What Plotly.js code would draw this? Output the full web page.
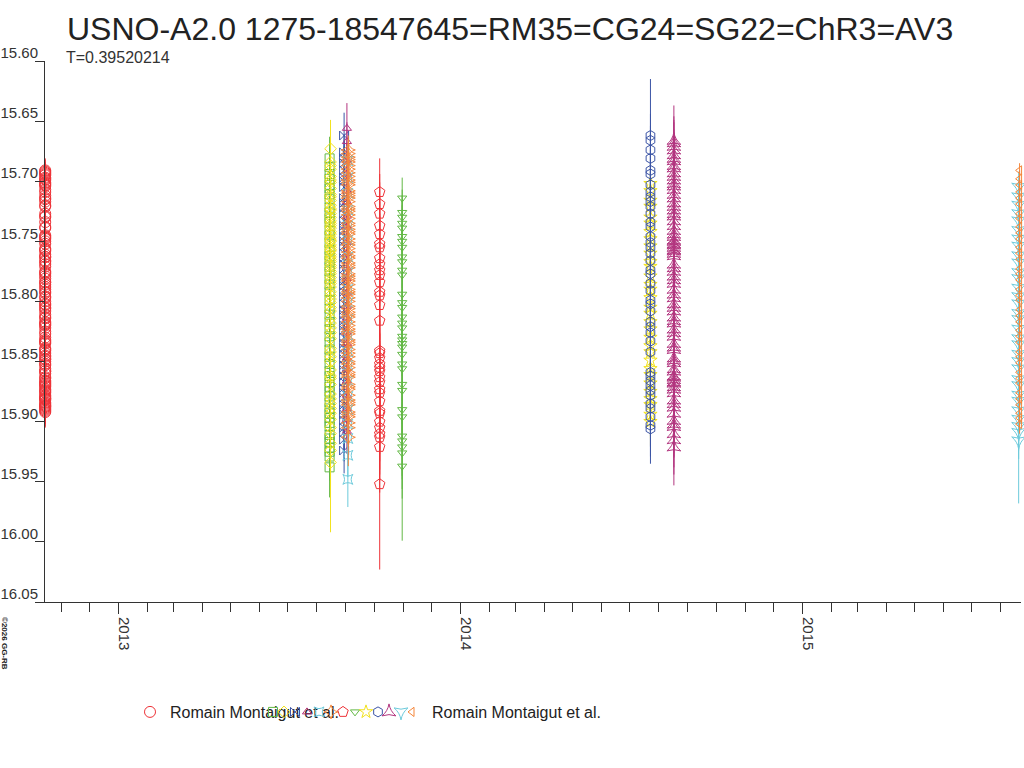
<!DOCTYPE html>
<html>
<head>
<meta charset="utf-8">
<script src="https://cdn.plot.ly/plotly-3.0.1.min.js"></script>
<style>html,body{margin:0;padding:0;background:#fff;}#chart{width:1024px;height:768px;}</style>
</head>
<body>
<div id="chart"></div>
<script>
// ---------- DATA ----------
const chartTitle = 'USNO-A2.0 1275-18547645=RM35=CG24=SG22=ChR3=AV3';
const periodText = 'T=0.39520214';
const yTickVals = [15.60, 15.65, 15.70, 15.75, 15.80, 15.85, 15.90, 15.95, 16.00, 16.05];

const seriesNames = ['Romain Montaigut et al.', '', '', '', '', '', '', '', '', '', '', '', '', 'Romain Montaigut et al.'];
const seriesDates = ['2012-10-15', '2013-08-14 12:00', '2013-08-15 12:00', '2013-08-30', '2013-09-02',
  '2013-09-03', '2013-09-03 12:00', '2013-10-07', '2013-10-31', '2014-07-23', '2014-07-23',
  '2014-08-17', '2015-08-20', '2015-08-21'];

const mag1 = [15.745,15.752,15.761,15.767,15.775,15.781,15.788,15.797,15.803,15.808,15.817,15.822,15.830,15.835,15.843,15.848,15.852,15.860,15.864,15.870,15.873,15.879,15.882,15.887,15.889,15.892,15.890,15.886,15.884,15.878,15.871,15.863,15.850,15.839,15.825,15.811,15.796,15.784,15.769,15.758,15.746,15.734,15.727,15.717,15.712,15.704,15.701,15.697,15.693,15.691,15.695,15.699,15.702,15.709,15.715,15.720,15.730,15.738,15.747,15.757,15.766,15.777,15.786,15.792,15.802,15.813,15.819,15.832,15.841,15.848,15.856,15.867,15.874,15.880,15.885,
  15.748,15.756,15.763,15.771,15.779,15.784,15.793,15.800,15.806,15.814,15.820,15.827,15.834,15.840,15.846,15.853,15.858,15.866,15.869,15.876,15.881,15.888,15.891,15.887,15.881,15.875,15.868,15.858,15.845,15.833,15.818,15.805,15.790,15.776,15.763,15.750,15.739,15.729,15.721,15.714,15.707,15.703,15.698,15.694,15.692];
const err1 = [0.010,0.011,0.010,0.011,0.010,0.012,0.011,0.010,0.011,0.012,0.010,0.011,0.012,0.011,0.012,0.010,0.011,0.012,0.011,0.012,0.013,0.011,0.012,0.013,0.012,0.013,0.012,0.011,0.013,0.012,0.011,0.012,0.010,0.011,0.012,0.010,0.011,0.010,0.011,0.010,0.009,0.010,0.011,0.010,0.009,0.010,0.011,0.010,0.009,0.010,0.009,0.010,0.011,0.009,0.010,0.011,0.010,0.009,0.010,0.011,0.010,0.011,0.010,0.011,0.012,0.010,0.011,0.012,0.011,0.012,0.011,0.012,0.011,0.012,0.013,
  0.011,0.010,0.011,0.012,0.010,0.011,0.012,0.010,0.011,0.012,0.011,0.010,0.012,0.011,0.012,0.011,0.012,0.011,0.013,0.012,0.011,0.012,0.013,0.012,0.011,0.012,0.011,0.012,0.011,0.010,0.011,0.012,0.010,0.011,0.010,0.011,0.010,0.011,0.010,0.009,0.010,0.011,0.010,0.009,0.010];

const mag2 = [15.681,15.688,15.694,15.703,15.706,15.715,15.722,15.726,15.734,15.741,15.745,15.757,15.762,15.771,15.775,15.786,15.792,15.799,15.806,15.811,15.823,15.829,15.834,15.846,15.852,15.858,15.867,15.871,15.879,15.884,15.893,15.897,15.904,15.911,15.917,15.922,15.929,15.938,
  15.698,15.711,15.731,15.751,15.766,15.781,15.817,15.840,15.862,15.875,15.889,15.901,15.914,15.925];
const err2 = [0.018,0.016,0.017,0.015,0.016,0.018,0.015,0.017,0.016,0.018,0.017,0.015,0.016,0.018,0.017,0.016,0.015,0.018,0.016,0.017,0.018,0.016,0.017,0.019,0.016,0.018,0.017,0.019,0.018,0.017,0.019,0.018,0.020,0.019,0.018,0.021,0.020,0.025,
  0.016,0.017,0.016,0.018,0.017,0.016,0.018,0.017,0.019,0.018,0.019,0.020,0.019,0.021];

const mag3 = [15.673,15.684,15.690,15.696,15.701,15.706,15.711,15.716,15.720,15.724,15.727,15.733,15.735,15.739,15.744,15.747,15.750,15.755,15.758,15.761,15.765,15.770,15.772,15.777,15.780,15.785,15.788,15.792,15.798,15.801,15.808,15.814,15.818,15.826,15.831,15.839,15.846,15.850,15.857,15.864,15.869,15.877,15.881,15.889,15.893,15.898,15.905,15.910,15.918,15.924,15.934,
  15.687,15.699,15.713,15.723,15.730,15.737,15.742,15.749,15.753,15.757,15.763,15.767,15.775,15.783,15.795,15.805,15.822,15.842,15.862,15.885];
const err3 = [0.024,0.018,0.017,0.019,0.016,0.018,0.017,0.016,0.018,0.017,0.016,0.018,0.017,0.019,0.016,0.018,0.017,0.016,0.018,0.017,0.019,0.016,0.018,0.017,0.019,0.018,0.017,0.016,0.019,0.018,0.017,0.020,0.018,0.019,0.017,0.020,0.019,0.018,0.021,0.019,0.020,0.022,0.021,0.020,0.023,0.022,0.024,0.025,0.027,0.030,0.058,
  0.018,0.017,0.018,0.016,0.017,0.018,0.016,0.017,0.018,0.016,0.017,0.018,0.017,0.018,0.019,0.018,0.019,0.020,0.021,0.022];

const mag4 = [15.662,15.676,15.685,15.691,15.700,15.705,15.714,15.718,15.727,15.733,15.741,15.746,15.754,15.760,15.769,15.773,15.783,15.787,15.796,15.802,15.811,15.816,15.824,15.830,15.839,15.844,15.853,15.857,15.867,15.872,15.880,15.886,15.894,15.899,15.909,15.915,15.924,
  15.681,15.697,15.722,15.737,15.750,15.764,15.779,15.792,15.807,15.820,15.835,15.848,15.862,15.876,15.890,15.905];
const err4 = [0.019,0.015,0.014,0.016,0.015,0.014,0.016,0.015,0.014,0.016,0.015,0.014,0.016,0.015,0.016,0.014,0.015,0.016,0.014,0.015,0.016,0.015,0.014,0.016,0.015,0.017,0.016,0.015,0.017,0.016,0.015,0.017,0.016,0.018,0.017,0.018,0.019,
  0.015,0.014,0.016,0.015,0.014,0.016,0.015,0.016,0.014,0.015,0.016,0.015,0.017,0.016,0.017,0.018];

const mag5 = [15.656,15.667,15.683,15.694,15.708,15.717,15.729,15.738,15.751,15.760,15.772,15.781,15.793,15.804,15.814,15.826,15.835,15.847,15.856,15.866,15.878,15.889,15.898,15.908];
const err5 = [0.021,0.016,0.015,0.016,0.014,0.015,0.016,0.014,0.015,0.016,0.015,0.014,0.016,0.015,0.016,0.015,0.016,0.017,0.015,0.016,0.017,0.016,0.017,0.018];

const mag6 = [15.683,15.697,15.710,15.724,15.737,15.749,15.763,15.776,15.790,15.801,15.815,15.828,15.842,15.853,15.866,15.879,15.890,15.902,15.914,15.928,15.948];
const err6 = [0.014,0.015,0.013,0.015,0.014,0.013,0.015,0.014,0.016,0.015,0.014,0.016,0.015,0.014,0.016,0.015,0.017,0.016,0.017,0.018,0.023];

const mag7 = [15.674,15.680,15.684,15.690,15.693,15.699,15.703,15.708,15.712,15.717,15.721,15.725,15.731,15.735,15.740,15.744,15.748,15.753,15.759,15.762,15.768,15.772,15.777,15.781,15.786,15.790,15.794,15.800,15.804,15.809,15.813,15.817,15.823,15.827,15.832,15.836,15.840,15.846,15.850,15.855,15.859,15.863,15.869,15.873,15.878,15.882,15.886,15.892,15.896,15.901,15.905,15.913,
  15.677,15.682,15.687,15.696,15.701,15.710,15.714,15.723,15.728,15.737,15.742,15.751,15.756,15.764,15.770,15.779,15.783,15.792,15.797,15.806,15.811,15.820,15.825,15.834,15.843,15.852,15.861,15.871,15.884,15.894];
const err7 = [0.012,0.011,0.012,0.013,0.011,0.012,0.013,0.012,0.011,0.012,0.013,0.012,0.011,0.013,0.012,0.011,0.012,0.013,0.012,0.011,0.013,0.012,0.011,0.012,0.013,0.012,0.011,0.013,0.012,0.013,0.012,0.011,0.013,0.012,0.013,0.012,0.014,0.013,0.012,0.014,0.013,0.012,0.014,0.013,0.014,0.013,0.015,0.014,0.013,0.015,0.016,0.024,
  0.012,0.011,0.013,0.012,0.011,0.012,0.013,0.011,0.012,0.013,0.012,0.011,0.012,0.013,0.012,0.011,0.013,0.012,0.013,0.012,0.011,0.013,0.012,0.013,0.014,0.013,0.012,0.014,0.013,0.014];

const mag8 = [15.709,15.719,15.727,15.737,15.744,15.752,15.755,15.764,15.769,15.774,15.778,15.784,15.792,15.795,15.803,15.816,15.841,15.843,15.847,15.852,15.855,15.858,15.863,15.867,15.873,15.876,15.883,15.891,15.893,15.900,15.905,15.910,15.913,15.921,15.952];
const err8 = [0.028,0.025,0.026,0.024,0.027,0.025,0.026,0.028,0.025,0.027,0.026,0.028,0.027,0.026,0.029,0.028,0.030,0.029,0.031,0.030,0.029,0.031,0.030,0.032,0.031,0.030,0.033,0.032,0.034,0.033,0.035,0.034,0.036,0.038,0.071];

const mag9 = [15.714,15.726,15.730,15.735,15.739,15.746,15.750,15.755,15.763,15.767,15.774,15.778,15.794,15.801,15.805,15.813,15.818,15.822,15.829,15.832,15.835,15.838,15.844,15.852,15.856,15.869,15.874,15.890,15.896,15.912,15.916,15.921,15.926,15.937];
const err9 = [0.017,0.019,0.018,0.020,0.019,0.021,0.020,0.019,0.021,0.022,0.020,0.021,0.023,0.022,0.021,0.023,0.024,0.022,0.024,0.023,0.025,0.024,0.026,0.025,0.027,0.026,0.028,0.030,0.029,0.033,0.032,0.035,0.038,0.062];

const mag10 = [15.702,15.708,15.716,15.721,15.730,15.735,15.742,15.748,15.754,15.760,15.767,15.771,15.779,15.786,15.790,15.797,15.805,15.810,15.817,15.823,15.830,15.837,15.842,15.849,15.856,15.861,15.868,15.875,15.881,15.886,15.894,15.900];
const err10 = [0.015,0.016,0.015,0.017,0.016,0.015,0.017,0.016,0.015,0.017,0.016,0.018,0.017,0.016,0.018,0.017,0.016,0.018,0.017,0.018,0.017,0.019,0.018,0.017,0.019,0.018,0.019,0.018,0.020,0.019,0.020,0.020];

const mag11 = [15.662,15.666,15.674,15.681,15.691,15.694,15.703,15.709,15.713,15.717,15.721,15.727,15.734,15.738,15.746,15.751,15.755,15.760,15.766,15.774,15.777,15.785,15.791,15.799,15.802,15.808,15.817,15.821,15.826,15.833,15.842,15.859,15.862,15.866,15.870,15.874,15.878,15.885,15.889,15.896,15.903,15.906];
const err11 = [0.047,0.022,0.020,0.021,0.019,0.020,0.018,0.019,0.020,0.018,0.019,0.020,0.018,0.019,0.020,0.019,0.018,0.020,0.019,0.018,0.020,0.019,0.021,0.020,0.019,0.021,0.020,0.019,0.021,0.020,0.022,0.021,0.020,0.022,0.021,0.023,0.022,0.024,0.023,0.025,0.026,0.029];

const mag12 = [15.666,15.671,15.678,15.683,15.689,15.696,15.702,15.707,15.711,15.718,15.724,15.729,15.737,15.741,15.746,15.749,15.752,15.755,15.758,15.762,15.769,15.775,15.779,15.785,15.790,15.797,15.802,15.808,15.813,15.818,15.823,15.829,15.835,15.840,15.847,15.851,15.858,15.862,15.865,15.868,15.871,15.876,15.882,15.888,15.893,15.899,15.904,15.910,15.915,15.921,
  15.668,15.674,15.681,15.687,15.693,15.699,15.704,15.714,15.721,15.727,15.733,15.744,15.750,15.753,15.757,15.760,15.772,15.782,15.794,15.805,15.816,15.826,15.838,15.849,15.856,15.863,15.867,15.873,15.885,15.902];
const err12 = [0.029,0.022,0.021,0.023,0.022,0.021,0.023,0.022,0.024,0.021,0.023,0.022,0.021,0.023,0.022,0.024,0.023,0.022,0.021,0.023,0.022,0.024,0.023,0.022,0.024,0.023,0.022,0.024,0.023,0.025,0.024,0.023,0.025,0.024,0.023,0.025,0.024,0.026,0.025,0.024,0.026,0.025,0.027,0.026,0.025,0.027,0.026,0.028,0.029,0.032,
  0.022,0.023,0.021,0.022,0.023,0.022,0.021,0.023,0.022,0.024,0.023,0.022,0.023,0.024,0.022,0.023,0.024,0.023,0.022,0.024,0.023,0.025,0.024,0.023,0.025,0.024,0.025,0.026,0.025,0.027];

const mag13 = [15.705,15.713,15.720,15.727,15.733,15.741,15.748,15.754,15.762,15.768,15.776,15.781,15.789,15.796,15.802,15.810,15.815,15.823,15.831,15.836,15.844,15.850,15.856,15.865,15.870,15.878,15.883,15.891,15.898,15.904,15.909,15.916];
const err13 = [0.013,0.012,0.014,0.013,0.012,0.014,0.013,0.015,0.014,0.013,0.015,0.014,0.013,0.015,0.014,0.016,0.015,0.014,0.016,0.015,0.017,0.016,0.015,0.017,0.016,0.018,0.017,0.019,0.018,0.020,0.022,0.052];

const mag14 = [15.691,15.698,15.703,15.709,15.714,15.719,15.727,15.731,15.738,15.743,15.748,15.755,15.760,15.765,15.773,15.777,15.782,15.790,15.795,15.799,15.807,15.812,15.817,15.824,15.829,15.834,15.842,15.846,15.851,15.859,15.864,15.868,15.876,15.881,15.886,15.893,15.897,15.902];
const err14 = [0.006,0.007,0.006,0.007,0.008,0.007,0.006,0.007,0.008,0.007,0.006,0.007,0.008,0.007,0.006,0.008,0.007,0.006,0.008,0.007,0.008,0.007,0.006,0.008,0.007,0.008,0.007,0.006,0.008,0.007,0.008,0.007,0.008,0.007,0.008,0.007,0.008,0.008];

const mags = [mag1, mag2, mag3, mag4, mag5, mag6, mag7, mag8, mag9, mag10, mag11, mag12, mag13, mag14];
const errs = [err1, err2, err3, err4, err5, err6, err7, err8, err9, err10, err11, err12, err13, err14];

// ---------- STYLE ----------
const symbols = ['circle-open', 'square-open', 'diamond-open', 'bowtie-open', 'triangle-up-open',
  'star-square-open', 'star-diamond-open', 'pentagon-open', 'triangle-down-open', 'star-open',
  'hexagon-open', 'star-triangle-up-open', 'star-triangle-down-open', 'triangle-left-open'];
const markerSizes = [11, 9, 9, 9, 8, 9, 10, 11, 8, 10, 10, 10, 10, 8];
const colors = ['#ee3338', '#63b946', '#f2e21c', '#3c55a6', '#b3357f', '#6ccadb', '#f5863a',
  '#ee3338', '#63b946', '#f2e21c', '#3c55a6', '#b3357f', '#6ccadb', '#f5863a'];
const legendSymbolPx = [150, 273, 284, 295, 307, 319, 331, 343, 355, 366, 378, 389, 401, 412];

const plotL = 45, plotR = 3, plotT = 61, plotB = 166, W = 1024, H = 768;
const plotW = W - plotL - plotR, plotH = H - plotT - plotB;
const legendCenterY = 712;

const traces = mags.map((m, i) => ({
  type: 'scatter',
  mode: 'markers',
  name: seriesNames[i],
  x: m.map(() => seriesDates[i]),
  y: m,
  cliponaxis: false,
  legend: i === 0 ? 'legend' : 'legend' + (i + 1),
  marker: {symbol: symbols[i], size: markerSizes[i], color: colors[i], line: {width: 1, color: colors[i]}},
  error_y: {type: 'data', array: errs[i], visible: true, color: colors[i], thickness: 1, width: 0},
  hoverinfo: 'x+y+name'
}));

const layout = {
  width: W, height: H,
  margin: {l: plotL, r: plotR, t: plotT, b: plotB, pad: 0},
  paper_bgcolor: '#ffffff', plot_bgcolor: '#ffffff',
  font: {family: '"Liberation Sans", Arial, sans-serif', color: '#333333'},
  showlegend: true,
  title: {
    text: chartTitle,
    font: {size: 32, color: '#222222', family: '"Liberation Sans", Arial, sans-serif'},
    xref: 'container', x: 67 / W, xanchor: 'left',
    yref: 'container', y: 1 - 29 / H, yanchor: 'middle'
  },
  xaxis: {
    type: 'date',
    range: ['2012-10-14 18:00', '2015-08-22 12:00'],
    showgrid: false, zeroline: false,
    showline: true, linecolor: '#333333', linewidth: 1,
    ticks: 'outside', ticklen: 11, tickwidth: 1, tickcolor: '#333333',
    tick0: '2013-01-01', dtick: 'M12', tickformat: '%Y',
    tickangle: 90, ticklabelshift: 6,
    tickfont: {size: 15, color: '#333333'},
    minor: {dtick: 'M1', tick0: '2012-11-01', ticks: 'outside', ticklen: 9, tickwidth: 1, tickcolor: '#333333', showgrid: false}
  },
  yaxis: {
    range: [16.05, 15.60],
    tickmode: 'array', tickvals: yTickVals, ticktext: yTickVals.map(v => v.toFixed(2)),
    showgrid: false, zeroline: false,
    showline: true, linecolor: '#333333', linewidth: 1,
    ticks: 'outside', ticklen: 9, tickwidth: 1, tickcolor: '#333333',
    tickfont: {size: 15, color: '#333333'},
    ticklabelstandoff: -6, ticklabelshift: 8
  },
  annotations: [
    {text: periodText, xref: 'paper', yref: 'paper', x: (64 - plotL) / plotW, y: ((H - plotB) - 57.5) / plotH,
     xanchor: 'left', yanchor: 'middle', showarrow: false, font: {size: 16, color: '#333333'}},
    {text: '<b>©2026 GG-RB</b>', xref: 'paper', yref: 'paper', x: (5 - plotL) / plotW, y: ((H - plotB) - 643) / plotH,
     xanchor: 'center', yanchor: 'middle', textangle: 90, showarrow: false, font: {size: 8, color: '#222222'}}
  ]
};

legendSymbolPx.forEach((px, i) => {
  const key = i === 0 ? 'legend' : 'legend' + (i + 1);
  layout[key] = {
    orientation: 'h', xanchor: 'left', yanchor: 'middle',
    x: (px - 20 - plotL) / plotW,
    y: ((H - plotB) - legendCenterY) / plotH,
    bgcolor: 'rgba(0,0,0,0)', borderwidth: 0,
    font: {size: 16, color: '#222222'},
    itemclick: false, itemdoubleclick: false
  };
});

Plotly.newPlot('chart', traces, layout, {displayModeBar: false, staticPlot: true});
</script>
</body>
</html>
